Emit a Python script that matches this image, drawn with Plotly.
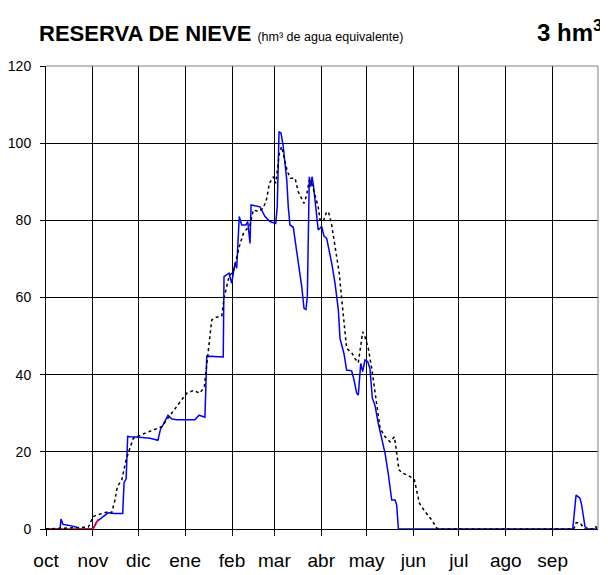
import plotly.graph_objects as go

# Month labels (hydrological year starting in October), day index of month start
month_labels = ["oct", "nov", "dic", "ene", "feb", "mar", "abr", "may", "jun", "jul", "ago", "sep"]
month_start_days = [0, 31, 61, 92, 123, 151, 182, 212, 243, 273, 304, 335]
year_days = 365

# Current year snow reserve (blue)
blue_days = [0, 9.3, 9.9, 11.2, 14.5, 17.2, 19.8, 22.5, 31, 33.5, 37, 41, 45, 49, 50.7, 51.6, 53, 54,
             55.5, 62, 68.8, 74, 75.8, 77.4, 80.7, 83.3, 86.4, 98.5, 101.2, 105.1, 106.3, 117.2, 117.7,
             121, 122.8, 125, 126.1, 127.8, 129.4, 132.2, 133.4, 134.9, 135.6, 141.5, 144.8, 148.1,
             151.9, 152.9, 154.1, 155.4, 156.9, 158, 159.2, 160.2, 161.3, 163.5, 166.8, 169.1, 170.6,
             171.9, 172.8, 174.1, 175, 175.9, 176.8, 177.9, 180, 182.3, 183.8, 185.6, 186.7, 188.9,
             191.1, 193.3, 194.4, 197, 198.8, 202.1, 203.7, 205.4, 206.5, 208.1, 209.4, 210.9, 212.7,
             214.2, 215.8, 217.5, 219.7, 222, 224.2, 226.3, 228.6, 230.8, 231.9, 233, 348.3, 350.5,
             353.1, 354.2, 356.4, 358.6, 364.3]
blue_vals = [0, 0, 2.6, 1.2, 1.0, 0.8, 0.5, 0, 0, 1.9, 3.0, 4.2, 4.0, 4.1, 4.0, 12, 13, 24,
             23.9, 23.8, 23.5, 23, 26, 27, 29.5, 28.5, 28.3, 28.3, 29.5, 29, 44.8, 44.6, 65.4,
             66.3, 63.7, 68.9, 67.6, 81, 78.8, 78.8, 79.7, 74, 84, 83.5, 81, 79.7,
             79.2, 83.5, 103, 102.6, 99.1, 94.8, 90.5, 83.5, 78.8, 78.2, 69.7, 62.8, 57.2,
             56.9, 60.2, 91.3, 88.7, 91.3, 89.2, 85.7, 77.5, 78.4, 75.9, 75.3, 73.2, 68.9,
             63.7, 56.8, 49.4, 45.5, 41.2, 41, 38.6, 35.2, 34.7, 42.9, 40.8, 43.8, 43.4,
             41.6, 33.9, 32.1, 27.4, 23.1, 19.6, 14.4, 7.5, 7.5, 6.2, 0, 0, 8.8,
             8, 6.2, 0.6, 0, 0]

# Average reserve (black dotted)
avg_days = [0, 20, 28, 29.2, 31.1, 33.5, 36.8, 41.2, 43.4, 45.6, 47.2, 50.1, 53, 57.7, 66.6, 76.5,
            83.1, 87.5, 93, 97.4, 101.8, 104.7, 106.3, 108, 109.6, 112.9, 116.2, 117.7, 119.5, 121,
            124.1, 127.8, 130.5, 134.9, 137.1, 140.4, 143.7, 146, 147.7, 150.4, 151.9, 154.3, 155.8,
            158, 159.6, 161.8, 164.7, 166.8, 169.1, 170.6, 172.4, 174.1, 175.7, 177.9, 180, 181.2,
            183.4, 185.6, 187.1, 188.9, 191.1, 193.9, 195.9, 197, 198.8, 202.1, 204.3, 206.5, 208.1,
            209.4, 210.9, 213.1, 215.4, 216.9, 219.1, 220.9, 224.2, 227.5, 230.4, 231.9, 233.4,
            236.3, 240.7, 243.6, 245.2, 246.9, 250.6, 255.1, 258.4, 260, 349, 350.5, 353.1, 356,
            362, 363.6, 364.5]
avg_vals = [0, 0.3, 0.5, 1.5, 3.2, 3.6, 3.9, 4.5, 4.2, 7.5, 11, 12.7, 18, 23.5, 25, 26.5,
            30, 32.3, 35.2, 35.9, 35.2, 36.9, 42.5, 49, 54.2, 54.9, 55.2, 59.8, 63.2, 65.4,
            67.1, 73.2, 76.6, 78.8, 82.7, 82.3, 83.1, 85.7, 89.6, 91.3, 89.6, 97.4, 99.1,
            95.6, 92.6, 90.9, 90.9, 87.4, 85.7, 84.4, 86.6, 90.5, 89.6, 86.6, 83.5, 80.1,
            79.7, 82.3, 81.8, 78.8, 73.2, 66.3, 58.1, 53.3, 46.8, 45.7, 44.2, 43.1, 48.1,
            51.1, 49.8, 46.8, 41.6, 37.3, 30.8, 26.1, 23.9, 22.6, 23.9, 19.6, 15.3,
            14.4, 13.6, 12.7, 9.7, 6.7, 4.5, 2.3, 0.2, 0, 0, 1.6, 1.6, 0,
            0, 0.6, 0]

# Previous segment (red)
red_days = [0, 31, 32.8, 34.6]
red_vals = [0, 0, 1.2, 2.6]

y_ticks = [0, 20, 40, 60, 80, 100, 120]

FONT = "Liberation Sans, Arial, sans-serif"

fig = go.Figure()
fig.add_trace(go.Scatter(x=blue_days, y=blue_vals, mode="lines",
                         line=dict(color="#0000FF", width=1.5), hoverinfo="skip"))
fig.add_trace(go.Scatter(x=red_days, y=red_vals, mode="lines",
                         line=dict(color="#FF0000", width=1.5), hoverinfo="skip"))
fig.add_trace(go.Scatter(x=avg_days, y=avg_vals, mode="lines",
                         line=dict(color="#000000", width=1.5, dash="dot"), hoverinfo="skip"))

# The page body adds an 8px offset, so the figure is sized to compensate.
fig.update_layout(
    width=600, height=567,
    margin=dict(l=38, r=10, t=58, b=46, autoexpand=False),
    paper_bgcolor="white", plot_bgcolor="white",
    showlegend=False,
    font=dict(family=FONT, color="black"),
    xaxis=dict(range=[0, year_days], tickmode="array",
               tickvals=month_start_days,
               ticktext=month_labels,
               showgrid=True, gridcolor="#000000", gridwidth=1,
               showline=True, linecolor="#000000", linewidth=1,
               ticks="outside", ticklen=6, tickcolor="#000000",
               tickfont=dict(size=19, family=FONT), ticklabelstandoff=8,
               zeroline=False, fixedrange=True, automargin=False),
    yaxis=dict(range=[0, 120], tickmode="array", tickvals=y_ticks,
               showgrid=True, gridcolor="#000000", gridwidth=1,
               showline=True, linecolor="#000000", linewidth=1,
               ticks="outside", ticklen=5, tickcolor="#000000",
               tickfont=dict(size=14, family=FONT), ticklabelstandoff=6,
               zeroline=False, fixedrange=True, automargin=False),
    shapes=[
        dict(type="line", xref="paper", yref="paper", x0=0, x1=1, y0=1, y1=1,
             line=dict(color="#808080", width=1)),
        dict(type="line", xref="paper", yref="paper", x0=1, x1=1, y0=0, y1=1,
             line=dict(color="#808080", width=1)),
    ],
    annotations=[
        dict(xref="paper", yref="paper", x=0, y=1.0, xshift=-9, yshift=33,
             xanchor="left", yanchor="middle", showarrow=False,
             text="<b>RESERVA DE NIEVE</b> <span style='font-size:12.5px'>(hm³ de agua equivalente)</span>",
             font=dict(size=22, family=FONT, color="black")),
        dict(xref="paper", yref="paper", x=1.0, y=1.0, xshift=6, yshift=35,
             xanchor="right", yanchor="middle", showarrow=False,
             text="<b>3 hm<sup>3</sup></b>",
             font=dict(size=24, family=FONT, color="black")),
    ],
)

fig.write_html("out.html")
